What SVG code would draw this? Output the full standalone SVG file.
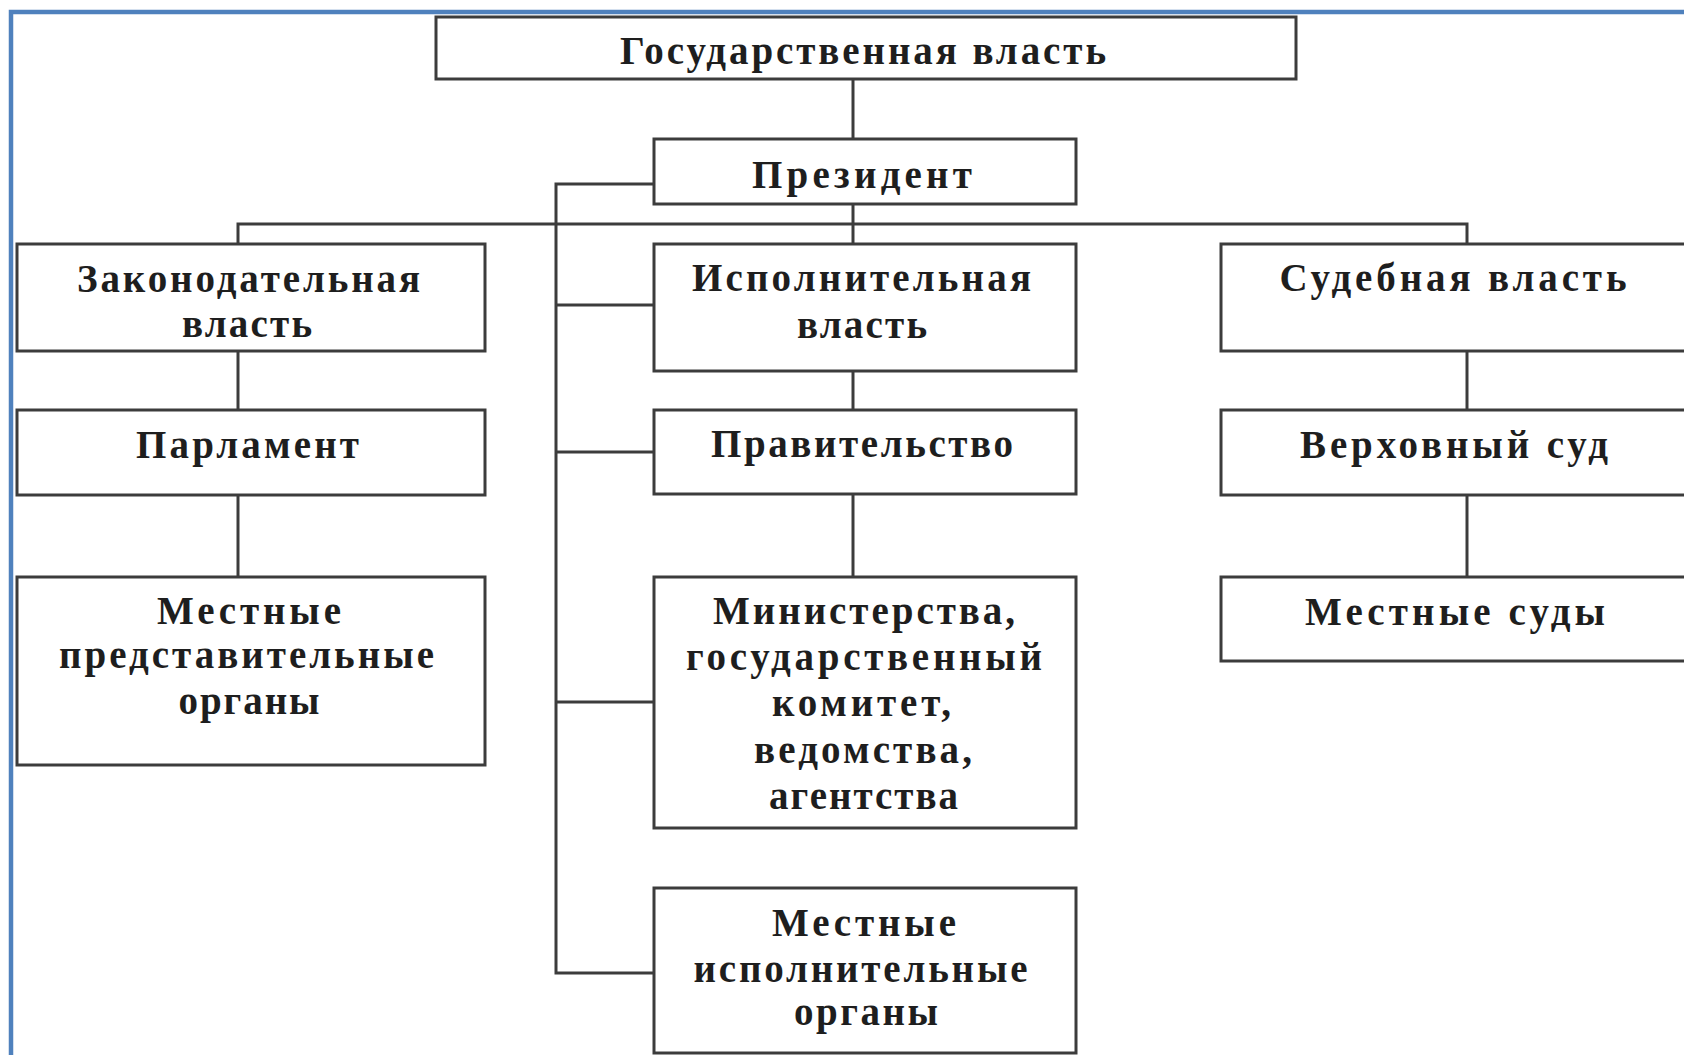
<svg xmlns="http://www.w3.org/2000/svg" width="1684" height="1055" viewBox="0 0 1684 1055">
<style>
.box{fill:#fff;stroke:#3c3c3c;stroke-width:3}
.ln{fill:none;stroke:#3c3c3c;stroke-width:3}
.t{font-family:"Liberation Serif","Times New Roman",serif;font-weight:bold;font-size:39px;fill:#1e1e1e;text-anchor:middle}
</style>
<rect x="0" y="0" width="1684" height="1055" fill="#fff"/>
<path d="M11,1055 V12 H1684" fill="none" stroke="#4f81bd" stroke-width="4.5"/>
<g id="connectors">
<path class="ln" d="M853,79 V139"/>
<path class="ln" d="M853,204 V244"/>
<path class="ln" d="M238,244 V224 H1467 V244"/>
<path class="ln" d="M654,184 H556 V973 H654"/>
<path class="ln" d="M556,305 H654"/>
<path class="ln" d="M556,452 H654"/>
<path class="ln" d="M556,702 H654"/>
<path class="ln" d="M238,351 V410"/>
<path class="ln" d="M238,495 V577"/>
<path class="ln" d="M853,371 V410"/>
<path class="ln" d="M853,494 V577"/>
<path class="ln" d="M1467,351 V410"/>
<path class="ln" d="M1467,495 V577"/>
</g>
<g id="gos"><rect class="box" x="436" y="17" width="860" height="62"/>
<text class="t" x="863" y="64" textLength="486" lengthAdjust="spacing">Государственная власть</text></g>
<g id="president"><rect class="box" x="654" y="139" width="422" height="65"/>
<text class="t" x="862" y="188" textLength="220" lengthAdjust="spacing">Президент</text></g>
<g id="legislative"><rect class="box" x="17" y="244" width="468" height="107"/>
<text class="t" x="248.5" y="292" textLength="343" lengthAdjust="spacing">Законодательная</text>
<text class="t" x="247" y="337" textLength="130" lengthAdjust="spacing">власть</text></g>
<g id="parliament"><rect class="box" x="17" y="410" width="468" height="85"/>
<text class="t" x="247.5" y="458" textLength="223" lengthAdjust="spacing">Парламент</text></g>
<g id="local-repr"><rect class="box" x="17" y="577" width="468" height="188"/>
<text class="t" x="249" y="624" textLength="184" lengthAdjust="spacing">Местные</text>
<text class="t" x="246.5" y="668" textLength="375" lengthAdjust="spacing">представительные</text>
<text class="t" x="249" y="714" textLength="141" lengthAdjust="spacing">органы</text></g>
<g id="executive"><rect class="box" x="654" y="244" width="422" height="127"/>
<text class="t" x="861.5" y="291" textLength="339" lengthAdjust="spacing">Исполнительная</text>
<text class="t" x="862" y="338" textLength="130" lengthAdjust="spacing">власть</text></g>
<g id="government"><rect class="box" x="654" y="410" width="422" height="84"/>
<text class="t" x="862" y="457" textLength="302" lengthAdjust="spacing">Правительство</text></g>
<g id="ministries"><rect class="box" x="654" y="577" width="422" height="251"/>
<text class="t" x="864" y="624" textLength="302" lengthAdjust="spacing">Министерства,</text>
<text class="t" x="864" y="670" textLength="356" lengthAdjust="spacing">государственный</text>
<text class="t" x="861.5" y="716" textLength="179" lengthAdjust="spacing">комитет,</text>
<text class="t" x="863" y="763" textLength="218" lengthAdjust="spacing">ведомства,</text>
<text class="t" x="863.5" y="809" textLength="189" lengthAdjust="spacing">агентства</text></g>
<g id="local-exec"><rect class="box" x="654" y="888" width="422" height="165"/>
<text class="t" x="864" y="936" textLength="184" lengthAdjust="spacing">Местные</text>
<text class="t" x="860.5" y="982" textLength="334" lengthAdjust="spacing">исполнительные</text>
<text class="t" x="866" y="1025" textLength="144" lengthAdjust="spacing">органы</text></g>
<g id="judicial"><rect class="box" x="1221" y="244" width="480" height="107"/>
<text class="t" x="1453" y="291" textLength="347" lengthAdjust="spacing">Судебная власть</text></g>
<g id="supreme"><rect class="box" x="1221" y="410" width="480" height="85"/>
<text class="t" x="1454" y="458" textLength="308" lengthAdjust="spacing">Верховный суд</text></g>
<g id="local-courts"><rect class="box" x="1221" y="577" width="480" height="84"/>
<text class="t" x="1455" y="625" textLength="300" lengthAdjust="spacing">Местные суды</text></g>
</svg>
